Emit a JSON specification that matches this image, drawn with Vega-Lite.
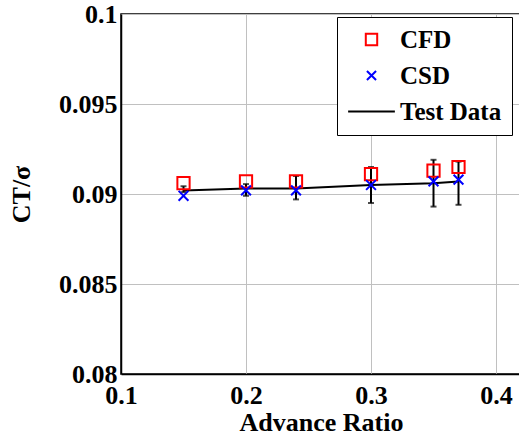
{
  "$schema": "https://vega.github.io/schema/vega-lite/v6.json",
  "width": 400,
  "height": 360,
  "autosize": "none",
  "padding": {"left": 121, "top": 14, "right": 0, "bottom": 65},
  "background": "white",
  "config": {
    "font": "Liberation Serif",
    "view": {"stroke": "black", "strokeWidth": 1.5},
    "axis": {
      "labelFont": "Liberation Serif",
      "labelFontWeight": "bold",
      "labelFontSize": 26,
      "labelColor": "black",
      "titleFont": "Liberation Serif",
      "titleFontWeight": "bold",
      "titleFontSize": 26,
      "titleColor": "black",
      "gridColor": "#c0c0c0",
      "gridWidth": 1,
      "gridOpacity": 1,
      "domainColor": "black",
      "domainWidth": 1.5,
      "ticks": false
    }
  },
  "datasets": {
    "pts": [
      {"mu": 0.15, "ct": 0.0906, "series": "CFD"},
      {"mu": 0.20, "ct": 0.0907, "series": "CFD"},
      {"mu": 0.24, "ct": 0.0907, "series": "CFD"},
      {"mu": 0.30, "ct": 0.0911, "series": "CFD"},
      {"mu": 0.35, "ct": 0.0913, "series": "CFD"},
      {"mu": 0.37, "ct": 0.0915, "series": "CFD"},
      {"mu": 0.15, "ct": 0.0899, "series": "CSD"},
      {"mu": 0.20, "ct": 0.0902, "series": "CSD"},
      {"mu": 0.24, "ct": 0.0902, "series": "CSD"},
      {"mu": 0.30, "ct": 0.0905, "series": "CSD"},
      {"mu": 0.35, "ct": 0.0907, "series": "CSD"},
      {"mu": 0.37, "ct": 0.0908, "series": "CSD"}
    ],
    "test": [
      {"mu": 0.15, "ct": 0.0902, "lo": 0.0901, "hi": 0.09043},
      {"mu": 0.20, "ct": 0.0903, "lo": 0.0899, "hi": 0.09055},
      {"mu": 0.24, "ct": 0.0903, "lo": 0.0897, "hi": 0.0910},
      {"mu": 0.30, "ct": 0.0905, "lo": 0.0895, "hi": 0.0915},
      {"mu": 0.35, "ct": 0.0906, "lo": 0.0893, "hi": 0.0919},
      {"mu": 0.37, "ct": 0.0907, "lo": 0.0894, "hi": 0.0918}
    ]
  },
  "layer": [
    {
      "data": {"name": "test"},
      "mark": {"type": "errorbar", "ticks": {"size": 6, "thickness": 2, "color": "black"}, "rule": {"strokeWidth": 2, "color": "black"}, "color": "black", "clip": true},
      "encoding": {
        "x": {"field": "mu", "type": "quantitative", "title": "Advance Ratio", "scale": {"domain": [0.1, 0.42], "nice": false, "zero": false}},
        "y": {"field": "lo", "type": "quantitative", "title": "CT/σ", "scale": {"domain": [0.08, 0.1], "nice": false, "zero": false}},
        "y2": {"field": "hi"}
      }
    },
    {
      "data": {"name": "test"},
      "mark": {"type": "line", "color": "black", "strokeWidth": 2, "clip": true},
      "encoding": {
        "x": {"field": "mu", "type": "quantitative", "title": "Advance Ratio"},
        "y": {"field": "ct", "type": "quantitative", "title": "CT/σ"}
      }
    },
    {
      "data": {"name": "pts"},
      "mark": {"type": "point", "filled": false, "strokeWidth": 2, "size": 150, "opacity": 1, "clip": true},
      "encoding": {
        "x": {
          "field": "mu", "type": "quantitative", "title": "Advance Ratio",
          "axis": {"values": [0.1, 0.2, 0.3, 0.4], "format": ".1f", "labelPadding": 8, "titlePadding": 1, "labelFlush": false}
        },
        "y": {
          "field": "ct", "type": "quantitative", "title": "CT/σ",
          "axis": {"values": [0.08, 0.085, 0.09, 0.095, 0.1], "format": ".3~f", "labelPadding": 4, "titlePadding": 24, "labelFlush": false}
        },
        "color": {
          "field": "series", "type": "nominal",
          "scale": {"domain": ["CFD", "CSD", "Test Data"], "range": ["#ff0000", "#0000ff", "#000000"]},
          "legend": {
            "title": null,
            "orient": "none",
            "legendX": 216,
            "legendY": 3,
            "fillColor": "white",
            "strokeColor": "black",
            "padding": 10,
            "labelFont": "Liberation Serif",
            "labelFontWeight": "bold",
            "labelFontSize": 25,
            "labelColor": "black",
            "symbolSize": 130,
            "symbolStrokeWidth": 2,
            "symbolOffset": 12,
            "labelOffset": 16,
            "rowPadding": 10,
            "symbolOpacity": 1,
            "encode": {"legend": {"update": {"strokeWidth": {"value": 1.5}}}}
          }
        },
        "shape": {
          "field": "series", "type": "nominal",
          "scale": {"domain": ["CFD", "CSD", "Test Data"], "range": ["square", "M-0.8,-0.8L0.8,0.8M-0.8,0.8L0.8,-0.8", "M-4.1,0L4.1,0"]}
        }
      }
    }
  ]
}
